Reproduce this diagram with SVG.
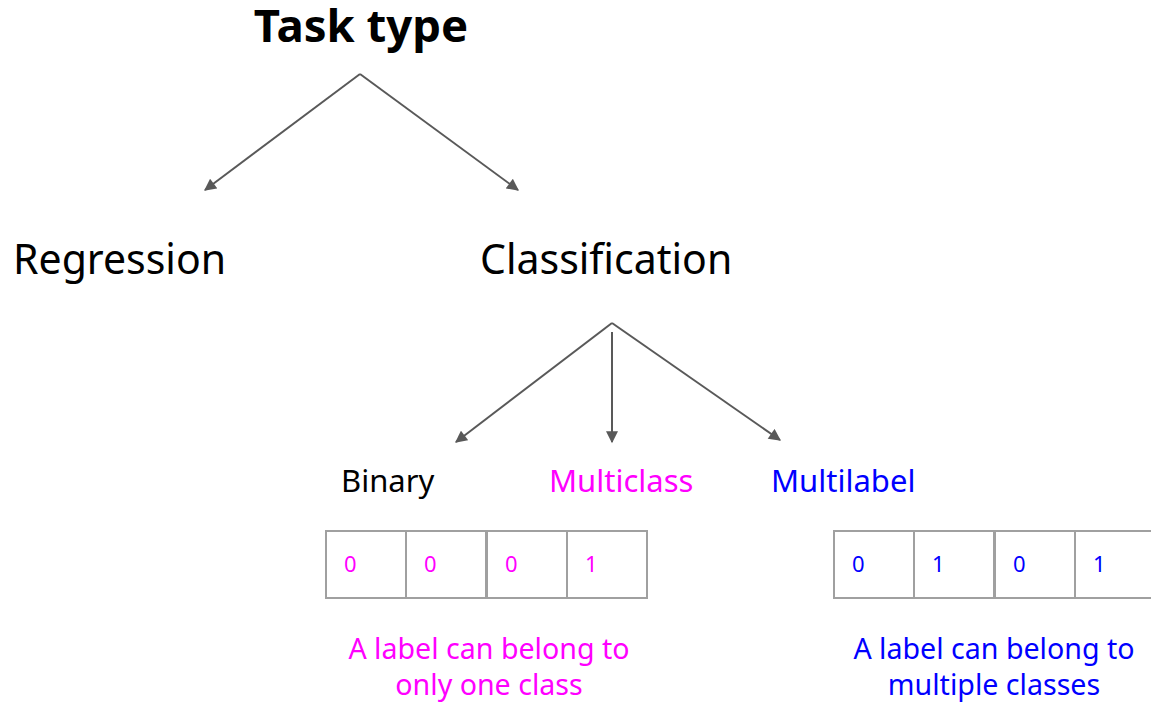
<svg xmlns="http://www.w3.org/2000/svg" width="1151" height="703" viewBox="0 0 1151 703">
<style>
text{font-family:"Noto Sans","Open Sans",sans-serif;}
.title{font-size:45.5px;font-weight:bold;fill:#000;}
.big{font-size:41px;fill:#000;}
.mid{font-size:31px;}
.cell{fill:#fff;stroke:#a0a0a0;stroke-width:2;}
.digit{font-size:22px;}
.cap{font-size:28.6px;}
.edge{stroke:#595959;stroke-width:2;fill:none;marker-end:url(#arr);}
.pink{fill:#ff00ff;}
.blue{fill:#0000ff;}
</style>
<defs>
<marker id="arr" viewBox="0 0 10 10" refX="9" refY="5" markerWidth="6.5" markerHeight="6" orient="auto" markerUnits="strokeWidth">
<path d="M0,0 L10,5 L0,10 z" fill="#595959"/>
</marker>
</defs>
<rect width="1151" height="703" fill="#fff"/>
<g id="connectors">
<path class="edge" d="M360,74 L205,190"/>
<path class="edge" d="M360,74 L518,190"/>
<path class="edge" d="M612,323 L456,442"/>
<path class="edge" d="M612,332 L612,442"/>
<path class="edge" d="M612,323 L780,440"/>
</g>
<g id="task-type"><text class="title" x="361" y="42" text-anchor="middle">Task type</text></g>
<g id="regression"><text class="big" x="13" y="274">Regression</text></g>
<g id="classification"><text class="big" x="480" y="274">Classification</text></g>
<g id="binary"><text class="mid" x="341" y="492" fill="#000">Binary</text></g>
<g id="multiclass"><text class="mid pink" x="549" y="492">Multiclass</text></g>
<g id="multilabel"><text class="mid blue" x="771" y="492">Multilabel</text></g>
<g id="multiclass-vector">
<rect class="cell" x="326" y="531" width="80" height="67"/>
<rect class="cell" x="406" y="531" width="80" height="67"/>
<rect class="cell" x="487" y="531" width="80" height="67"/>
<rect class="cell" x="567" y="531" width="80" height="67"/>
<text class="digit pink" x="344" y="572">0</text>
<text class="digit pink" x="424" y="572">0</text>
<text class="digit pink" x="505" y="572">0</text>
<text class="digit pink" x="585" y="572">1</text>
</g>
<g id="multilabel-vector">
<rect class="cell" x="834" y="531" width="80" height="67"/>
<rect class="cell" x="914" y="531" width="80" height="67"/>
<rect class="cell" x="995" y="531" width="80" height="67"/>
<rect class="cell" x="1075" y="531" width="80" height="67"/>
<text class="digit blue" x="852" y="572">0</text>
<text class="digit blue" x="932" y="572">1</text>
<text class="digit blue" x="1013" y="572">0</text>
<text class="digit blue" x="1093" y="572">1</text>
</g>
<g id="multiclass-caption">
<text class="cap pink" x="489" y="659" text-anchor="middle">A label can belong to</text>
<text class="cap pink" x="489" y="695" text-anchor="middle">only one class</text>
</g>
<g id="multilabel-caption">
<text class="cap blue" x="994" y="659" text-anchor="middle">A label can belong to</text>
<text class="cap blue" x="994" y="695" text-anchor="middle">multiple classes</text>
</g>
</svg>
